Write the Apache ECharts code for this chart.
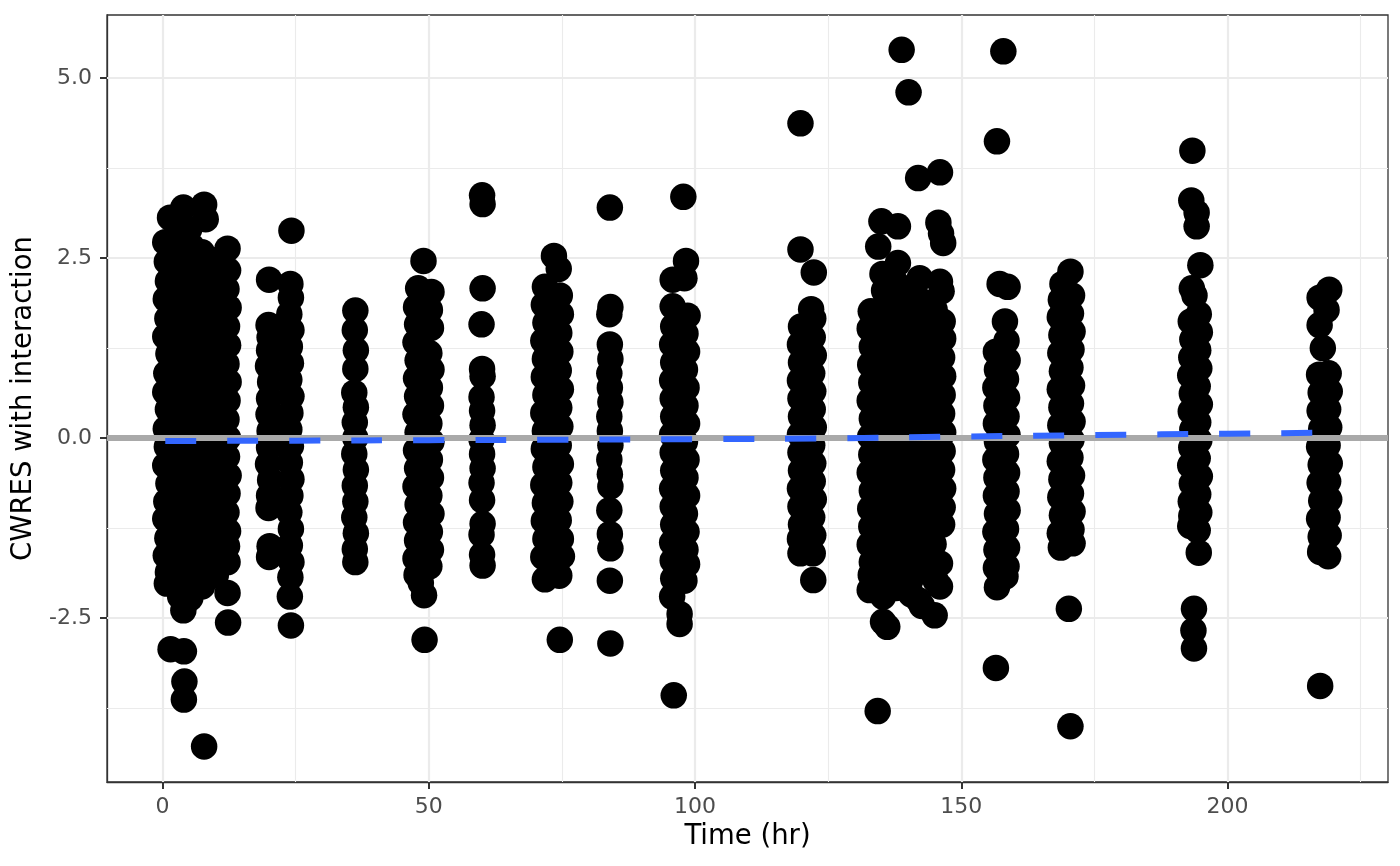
<!DOCTYPE html>
<html>
<head>
<meta charset="utf-8">
<script src="https://cdn.jsdelivr.net/npm/echarts@6.0.0/dist/echarts.min.js"></script>
<style>
  html, body { margin: 0; padding: 0; background: #ffffff; }
  #chart { width: 1400px; height: 866px; }
</style>
</head>
<body>
<div id="chart"></div>
<script>
// CWRES with interaction vs time.
// One array per sampling occasion, each entry is [time (hr), CWRES].
var day0 = [
  [0.5, 2.72], [0.8, 2.45], [1.0, 2.18], [0.6, 1.93], [0.9, 1.66], [0.5, 1.41], [1.1, 1.17], [0.7, 0.9],
  [0.5, 0.64], [1.0, 0.4], [0.6, 0.13], [0.8, -0.12], [0.5, -0.38], [1.1, -0.63], [0.7, -0.88], [0.5, -1.12],
  [0.9, -1.39], [0.6, -1.63], [1.0, -1.86], [0.8, -2.02], [1.4, 3.06], [1.5, -2.93],
  [3.9, 3.2], [2.8, 2.88], [3.2, 2.62], [2.9, 2.36], [3.1, 2.1], [2.7, 1.84], [3.3, 1.58], [2.9, 1.33],
  [3.0, 1.07], [3.2, 0.8], [2.8, 0.55], [3.1, 0.29], [2.9, 0.04], [3.3, -0.22], [2.8, -0.47], [3.0, -0.72],
  [3.2, -0.98], [2.9, -1.24], [3.1, -1.5], [2.8, -1.76], [3.0, -2.0], [3.3, -2.2], [3.9, -2.39],
  [4.0, -2.96], [4.1, -3.38], [4.0, -3.63],
  [5.0, 2.9], [5.5, 2.66], [5.2, 2.41], [5.6, 2.15], [5.1, 1.9], [5.4, 1.64], [5.3, 1.38], [5.0, 1.13],
  [5.5, 0.87], [5.2, 0.62], [5.6, 0.36], [5.1, 0.1], [5.4, -0.15], [5.2, -0.41], [5.5, -0.66], [5.0, -0.92],
  [5.3, -1.17], [5.6, -1.43], [5.1, -1.68], [5.4, -1.94], [5.2, -2.22],
  [7.8, 3.24], [8.1, 3.04], [7.4, 2.58], [7.6, 2.3], [7.3, 2.04], [7.7, 1.78], [7.5, 1.52], [7.2, 1.27],
  [7.6, 1.01], [7.4, 0.75], [7.8, 0.5], [7.3, 0.24], [7.6, -0.02], [7.4, -0.28], [7.7, -0.53], [7.2, -0.79],
  [7.5, -1.05], [7.8, -1.3], [7.3, -1.56], [7.6, -1.82], [7.4, -2.06], [7.8, -4.28],
  [9.6, 2.47], [9.9, 2.2], [9.7, 1.95], [10.0, 1.69], [9.5, 1.43], [9.8, 1.18], [10.1, 0.92], [9.6, 0.66],
  [9.9, 0.41], [9.7, 0.15], [10.0, -0.1], [9.5, -0.36], [9.8, -0.61], [10.1, -0.87], [9.6, -1.12],
  [9.9, -1.38], [9.7, -1.64], [10.0, -1.9],
  [12.2, 2.63], [12.3, 2.33], [12.0, 2.07], [12.4, 1.81], [12.1, 1.55], [12.3, 1.29], [12.0, 1.03],
  [12.4, 0.78], [12.2, 0.52], [12.0, 0.26], [12.3, 0.0], [12.1, -0.26], [12.4, -0.52], [12.2, -0.77],
  [12.0, -1.03], [12.3, -1.29], [12.1, -1.5], [12.2, -1.72], [12.2, -2.15], [12.3, -2.56]
];
var day1 = [
  [20.0, 2.2], [19.9, 1.57], [20.1, 1.4], [20.0, 1.22], [19.8, 1.0], [20.2, 0.78], [20.0, 0.55], [19.9, 0.33],
  [20.1, 0.1], [20.0, -0.13], [19.8, -0.36], [20.2, -0.58], [20.0, -0.8], [19.9, -0.97], [20.1, -1.5], [20.0, -1.65],
  [24.2, 2.88], [24.0, 2.14], [24.1, 1.95], [23.8, 1.72], [24.2, 1.5], [23.9, 1.27], [24.1, 1.04], [23.8, 0.81],
  [24.2, 0.58], [24.0, 0.35], [23.8, 0.12], [24.1, -0.11], [23.9, -0.34], [24.2, -0.57], [24.0, -0.8],
  [23.8, -1.03], [24.1, -1.26], [23.9, -1.49], [24.2, -1.72], [24.0, -1.93], [23.9, -2.2], [24.1, -2.6],
  [36.2, 1.77], [36.1, 1.5], [36.3, 1.22], [36.2, 0.96], [36.0, 0.63], [36.3, 0.43], [36.1, 0.22], [36.2, 0.0],
  [36.0, -0.22], [36.3, -0.44], [36.1, -0.66], [36.2, -0.88], [36.0, -1.1], [36.3, -1.32], [36.1, -1.54], [36.2, -1.72]
];
var day2 = [
  [49.0, 2.46], [48.0, 2.08], [47.6, 1.82], [47.8, 1.58], [47.5, 1.33], [47.9, 1.08], [47.6, 0.83], [47.8, 0.58],
  [47.5, 0.33], [47.9, 0.08], [47.6, -0.17], [47.8, -0.42], [47.5, -0.67], [47.9, -0.92], [47.6, -1.17],
  [47.8, -1.42], [47.5, -1.67], [47.7, -1.9], [49.1, -2.18], [49.2, -2.8],
  [50.5, 2.03], [50.2, 1.78], [50.4, 1.53], [50.1, 1.18], [50.5, 0.95], [50.2, 0.7], [50.4, 0.45], [50.1, 0.2],
  [50.5, -0.05], [50.2, -0.3], [50.4, -0.55], [50.1, -0.8], [50.5, -1.05], [50.2, -1.3], [50.4, -1.55],
  [50.1, -1.78], [48.5, -2.01],
  [60.0, 3.37], [60.1, 3.25], [60.1, 2.08], [59.9, 1.58], [60.0, 0.96], [60.1, 0.86], [59.9, 0.57], [60.0, 0.38],
  [60.1, 0.18], [59.9, -0.02], [60.0, -0.22], [60.1, -0.42], [59.9, -0.62], [60.0, -0.86], [60.1, -1.19],
  [59.9, -1.34], [60.0, -1.62], [60.1, -1.77]
];
var day3 = [
  [71.8, 2.1], [71.6, 1.85], [71.9, 1.6], [71.5, 1.35], [71.8, 1.1], [71.6, 0.85], [71.9, 0.6], [71.5, 0.35],
  [71.8, 0.1], [71.6, -0.15], [71.9, -0.4], [71.5, -0.65], [71.8, -0.9], [71.6, -1.15], [71.9, -1.4],
  [71.5, -1.65], [71.8, -1.96],
  [73.5, 2.53], [74.4, 2.35], [74.6, 1.98], [74.8, 1.72], [74.5, 1.46], [74.7, 1.2], [74.4, 0.94], [74.8, 0.68],
  [74.5, 0.42], [74.7, 0.16], [74.4, -0.1], [74.8, -0.36], [74.5, -0.62], [74.7, -0.88], [74.4, -1.14],
  [74.8, -1.4], [75.0, -1.64], [74.5, -1.91], [74.6, -2.8],
  [84.0, 3.2], [84.1, 1.82], [83.9, 1.72], [84.0, 1.3], [84.1, 1.1], [83.9, 0.9], [84.0, 0.7], [84.1, 0.5],
  [83.9, 0.3], [84.0, 0.1], [84.1, -0.1], [83.9, -0.3], [84.0, -0.5], [84.1, -0.67], [83.9, -1.0],
  [84.0, -1.33], [84.1, -1.53], [84.0, -1.98], [84.1, -2.85]
];
var day4 = [
  [95.8, 2.2], [95.8, 1.83], [95.9, 1.55], [95.7, 1.3], [95.9, 1.05], [95.7, 0.8], [95.8, 0.55], [95.9, 0.3],
  [95.7, 0.05], [95.8, -0.2], [95.9, -0.45], [95.7, -0.7], [95.8, -0.95], [95.9, -1.2], [95.7, -1.45],
  [95.8, -1.7], [95.9, -1.95], [95.7, -2.2], [96.0, -3.57],
  [97.8, 3.35], [98.3, 2.46], [98.0, 2.22], [98.6, 1.7], [98.2, 1.45], [98.5, 1.2], [98.1, 0.95], [98.4, 0.7],
  [98.2, 0.45], [98.5, 0.2], [98.1, -0.05], [98.4, -0.3], [98.2, -0.55], [98.5, -0.8], [98.1, -1.05],
  [98.4, -1.3], [98.2, -1.55], [98.5, -1.75], [98.0, -1.98], [97.1, -2.44], [97.1, -2.58]
];
var day5 = [
  [119.8, 4.37], [119.8, 2.62], [119.9, 1.55], [119.7, 1.3], [119.9, 1.05], [119.7, 0.8], [119.8, 0.55],
  [119.9, 0.3], [119.7, 0.05], [119.8, -0.2], [119.9, -0.45], [119.7, -0.7], [119.8, -0.95], [119.9, -1.2],
  [119.7, -1.4], [119.8, -1.6],
  [122.3, 2.3], [121.8, 1.79], [122.2, 1.66], [122.1, 1.4], [122.3, 1.15], [122.0, 0.9], [122.2, 0.65],
  [122.1, 0.4], [122.3, 0.15], [122.0, -0.1], [122.2, -0.35], [122.1, -0.6], [122.3, -0.85], [122.0, -1.1],
  [122.2, -1.35], [122.1, -1.6], [122.2, -1.97]
];
var day6 = [
  [133.0, 1.76], [132.8, 1.52], [133.2, 1.27], [132.9, 1.02], [133.1, 0.77], [132.8, 0.52], [133.2, 0.27],
  [132.9, 0.02], [133.1, -0.23], [132.8, -0.48], [133.2, -0.73], [132.9, -0.98], [133.1, -1.23], [132.8, -1.48],
  [133.2, -1.72], [133.0, -1.9], [132.8, -2.11],
  [135.0, 3.01], [134.4, 2.66], [135.2, 2.28], [135.5, 2.05], [135.1, 1.8], [135.4, 1.55], [135.0, 1.3],
  [135.3, 1.05], [135.6, 0.8], [135.2, 0.55], [135.5, 0.3], [135.1, 0.05], [135.4, -0.2], [135.0, -0.45],
  [135.3, -0.7], [135.6, -0.95], [135.2, -1.2], [135.5, -1.45], [135.1, -1.7], [135.4, -1.95], [135.3, -2.2],
  [135.3, -2.55], [136.1, -2.62], [134.3, -3.79],
  [138.1, 2.94], [138.1, 2.43], [137.8, 2.15], [137.6, 1.9], [138.0, 1.65], [137.7, 1.4], [137.9, 1.15],
  [137.6, 0.9], [138.0, 0.65], [137.7, 0.4], [137.9, 0.15], [137.6, -0.1], [138.0, -0.35], [137.7, -0.6],
  [137.9, -0.85], [137.6, -1.1], [138.0, -1.35], [137.7, -1.6], [137.9, -1.85], [137.8, -2.08],
  [138.8, 5.39], [140.1, 4.8], [140.2, 1.98], [140.0, 1.73], [140.4, 1.48], [140.1, 1.23], [140.3, 0.98],
  [140.0, 0.73], [140.4, 0.48], [140.1, 0.23], [140.3, -0.02], [140.0, -0.27], [140.4, -0.52], [140.1, -0.77],
  [140.3, -1.02], [140.0, -1.27], [140.4, -1.52], [140.1, -1.77], [140.3, -2.0], [140.6, -2.17],
  [141.9, 3.61], [142.2, 2.22], [142.6, 1.9], [142.4, 1.65], [142.8, 1.4], [142.5, 1.15], [142.7, 0.9],
  [142.4, 0.65], [142.8, 0.4], [142.5, 0.15], [142.7, -0.1], [142.4, -0.35], [142.8, -0.6], [142.5, -0.85],
  [142.7, -1.1], [142.4, -1.35], [142.8, -1.6], [142.5, -1.85], [142.0, -2.25], [142.6, -2.33],
  [146.0, 3.69], [145.7, 2.99], [146.2, 2.84], [146.6, 2.71], [146.0, 2.17], [146.3, 2.04], [145.0, 1.78],
  [144.8, 1.53], [145.2, 1.28], [144.9, 1.03], [145.1, 0.78], [144.8, 0.53], [145.2, 0.28], [144.9, 0.03],
  [145.1, -0.22], [144.8, -0.47], [145.2, -0.72], [144.9, -0.97], [145.1, -1.22], [144.8, -1.47],
  [145.0, -1.72], [145.2, -1.98], [145.0, -2.46],
  [146.5, 1.62], [146.6, 1.38], [146.4, 1.12], [146.6, 0.86], [146.5, 0.6], [146.4, 0.34], [146.6, 0.08],
  [146.5, -0.18], [146.4, -0.44], [146.6, -0.7], [146.5, -0.96], [146.4, -1.2], [146.0, -1.74], [146.0, -2.06]
];
var day7 = [
  [156.7, 4.12], [157.2, 2.14], [156.5, 1.2], [156.7, 0.95], [156.4, 0.7], [156.6, 0.45], [156.5, 0.2],
  [156.7, -0.05], [156.4, -0.3], [156.6, -0.55], [156.5, -0.8], [156.7, -1.05], [156.4, -1.3], [156.6, -1.55],
  [156.5, -1.8], [156.7, -2.07], [156.5, -3.19],
  [157.9, 5.37], [158.7, 2.1], [158.2, 1.62], [158.5, 1.35], [158.7, 1.08], [158.4, 0.82], [158.6, 0.56],
  [158.5, 0.3], [158.7, 0.04], [158.4, -0.22], [158.6, -0.48], [158.5, -0.74], [158.7, -1.0], [158.4, -1.26],
  [158.6, -1.52], [158.5, -1.78], [158.3, -1.92],
  [169.0, 2.14], [168.7, 1.92], [168.5, 1.68], [168.8, 1.43], [168.6, 1.18], [168.9, 0.93], [168.5, 0.68],
  [168.8, 0.43], [168.6, 0.18], [168.9, -0.07], [168.5, -0.32], [168.8, -0.57], [168.6, -0.82], [168.9, -1.07],
  [168.5, -1.32], [168.7, -1.52],
  [170.5, 2.31], [170.8, 1.98], [170.6, 1.73], [170.9, 1.48], [170.7, 1.23], [170.5, 0.98], [170.8, 0.73],
  [170.6, 0.48], [170.9, 0.23], [170.7, -0.02], [170.5, -0.27], [170.8, -0.52], [170.6, -0.77], [170.9, -1.02],
  [170.7, -1.27], [170.9, -1.46], [170.2, -2.37], [170.5, -4.0]
];
var day8 = [
  [193.4, 3.99], [193.2, 3.3], [193.3, 2.08], [193.1, 1.62], [193.4, 1.37], [193.2, 1.12], [193.0, 0.87],
  [193.3, 0.62], [193.1, 0.37], [193.4, 0.12], [193.2, -0.13], [193.0, -0.38], [193.3, -0.63], [193.1, -0.88],
  [193.2, -1.08], [193.0, -1.22],
  [194.2, 3.13], [194.2, 2.94], [194.9, 2.4], [193.8, 1.98], [194.6, 1.72], [194.8, 1.47], [194.5, 1.22],
  [194.7, 0.97], [194.4, 0.72], [194.8, 0.47], [194.5, 0.22], [194.7, -0.03], [194.4, -0.28], [194.8, -0.53],
  [194.5, -0.78], [194.7, -1.03], [194.4, -1.28], [194.6, -1.59], [193.7, -2.37], [193.6, -2.67], [193.7, -2.92],
  [217.3, 1.95], [217.3, 1.57], [217.9, 1.25], [217.2, 0.88], [217.5, 0.63], [217.3, 0.38], [217.6, 0.13],
  [217.2, -0.12], [217.5, -0.37], [217.3, -0.62], [217.6, -0.87], [217.2, -1.12], [217.5, -1.37],
  [217.4, -1.58], [217.4, -3.44],
  [219.1, 2.06], [218.6, 1.78], [219.0, 0.9], [219.2, 0.65], [218.9, 0.4], [219.1, 0.15], [218.8, -0.1],
  [219.2, -0.35], [218.9, -0.6], [219.1, -0.85], [218.8, -1.1], [219.0, -1.35], [218.9, -1.64]
];

// loess smooth (blue dashed) read along its length
var smoothTime = [0.5, 25, 50, 75, 100, 125, 150, 175, 200, 219.2];
var smoothCwres = [-0.04, -0.035, -0.028, -0.022, -0.015, -0.003, 0.022, 0.042, 0.062, 0.075];

var xTicks = [0, 50, 100, 150, 200];
var xMinor = [25, 75, 125, 175, 225];
var yTicks = [-2.5, 0, 2.5, 5];
var yMinor = [-3.75, -1.25, 1.25, 3.75];

var points = [].concat(day0, day1, day2, day3, day4, day5, day6, day7, day8);
var smooth = smoothTime.map(function (t, i) { return [t, smoothCwres[i]]; });

function gridLines(key, values, width) {
  return values.map(function (v) {
    var d = { lineStyle: { width: width } };
    d[key] = v;
    return d;
  });
}

var chart = echarts.init(document.getElementById('chart'), null, { renderer: 'canvas' });

chart.setOption({
  animation: false,
  backgroundColor: '#ffffff',
  textStyle: { fontFamily: 'DejaVu Sans' },
  grid: {
    left: 107, right: 12, top: 15, bottom: 84,
    show: true, borderColor: '#333333', borderWidth: 1.3, backgroundColor: '#ffffff'
  },
  xAxis: {
    type: 'value',
    min: -10.44,
    max: 230.14,
    name: 'Time (hr)',
    nameLocation: 'middle',
    nameGap: 41,
    nameTextStyle: { fontSize: 27.5, color: '#000000' },
    axisLine: { show: true, onZero: false, lineStyle: { color: '#333333', width: 1.3 } },
    axisTick: { show: true, length: 7, customValues: xTicks, lineStyle: { color: '#333333', width: 2 } },
    axisLabel: { customValues: xTicks, fontSize: 22, color: '#4D4D4D', margin: 14 },
    splitLine: { show: false }
  },
  yAxis: {
    type: 'value',
    min: -4.774,
    max: 5.874,
    name: 'CWRES with interaction',
    nameLocation: 'middle',
    nameGap: 62,
    nameTextStyle: { fontSize: 27.5, color: '#000000' },
    axisLine: { show: true, onZero: false, lineStyle: { color: '#333333', width: 1.3 } },
    axisTick: { show: true, length: 7, customValues: yTicks, lineStyle: { color: '#333333', width: 2 } },
    axisLabel: {
      customValues: yTicks, fontSize: 22, color: '#4D4D4D', margin: 15,
      formatter: function (v) { return v.toFixed(1); }
    },
    splitLine: { show: false }
  },
  series: [
    {
      type: 'scatter',
      data: points,
      symbol: 'circle',
      symbolSize: 26.5,
      itemStyle: { color: '#000000', opacity: 1 },
      emphasis: { disabled: true },
      silent: true,
      z: 2,
      markLine: {
        z: 1,
        silent: true,
        symbol: ['none', 'none'],
        label: { show: false },
        emphasis: { disabled: true },
        lineStyle: { color: '#EBEBEB', type: 'solid' },
        data: [].concat(
          gridLines('xAxis', xMinor, 1.1),
          gridLines('yAxis', yMinor, 1.1),
          gridLines('xAxis', xTicks, 2.2),
          gridLines('yAxis', yTicks, 2.2)
        )
      }
    },
    {
      type: 'line',
      data: smooth,
      smooth: true,
      showSymbol: false,
      silent: true,
      z: 10,
      lineStyle: { color: '#3366FF', width: 6, type: [31, 31] },
      markLine: {
        z: 8,
        silent: true,
        symbol: ['none', 'none'],
        label: { show: false },
        emphasis: { disabled: true },
        lineStyle: { color: '#A9A9A9', width: 6, type: 'solid' },
        data: [{ yAxis: 0 }]
      }
    }
  ]
});
</script>
</body>
</html>
